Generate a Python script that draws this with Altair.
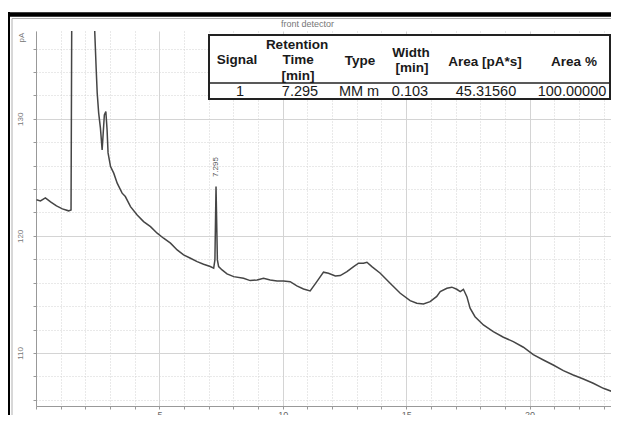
import altair as alt
import pandas as pd

# ---- data ----
times = [0.02, 0.18, 0.38, 0.59, 0.83, 1.07, 1.32, 1.42, 1.46, 2.37, 2.38, 2.44, 2.48,
         2.54, 2.61, 2.68, 2.77, 2.83, 2.88, 2.92, 3.02, 3.15, 3.29, 3.49, 3.62, 3.83,
         4.10, 4.36, 4.64, 4.91, 5.17, 5.45, 5.72, 5.98, 6.26, 6.53, 6.79, 7.06, 7.20,
         7.25, 7.295, 7.35, 7.40, 7.54, 7.74, 8.01, 8.41, 8.68, 8.96, 9.22, 9.49, 9.77,
         10.03, 10.30, 10.57, 10.84, 11.11, 11.38, 11.65, 11.85, 12.13, 12.33, 12.60,
         12.87, 13.07, 13.27, 13.41, 13.61, 13.95, 14.35, 14.76, 15.16, 15.43, 15.70,
         15.97, 16.24, 16.38, 16.65, 16.85, 17.05, 17.19, 17.32, 17.46, 17.59, 17.79,
         18.13, 18.53, 18.94, 19.34, 19.75, 20.15, 20.56, 20.96, 21.37, 21.77, 22.18,
         22.58, 22.99, 23.53]
signal = [123.08, 122.99, 123.25, 122.91, 122.56, 122.31, 122.14, 122.22, 145.0, 145.0,
          137.46, 134.19, 132.20, 130.49, 129.23, 127.35, 130.34, 130.62, 129.06, 127.09,
          125.92, 125.36, 124.50, 123.65, 123.36, 122.50, 121.79, 121.22, 120.79, 120.23,
          119.80, 119.38, 118.80, 118.38, 118.09, 117.80, 117.58, 117.38, 117.24, 117.95,
          124.21, 117.95, 117.38, 117.09, 116.75, 116.52, 116.38, 116.18, 116.24, 116.38,
          116.24, 116.15, 116.15, 116.09, 115.73, 115.47, 115.30, 116.09, 116.90, 116.81,
          116.58, 116.61, 116.95, 117.38, 117.67, 117.67, 117.75, 117.38, 116.81, 115.96,
          115.10, 114.47, 114.25, 114.19, 114.38, 114.83, 115.24, 115.53, 115.62, 115.44,
          115.24, 115.44, 114.81, 113.82, 113.10, 112.39, 111.82, 111.34, 110.97, 110.49,
          109.85, 109.40, 108.97, 108.49, 108.12, 107.78, 107.41, 106.98, 106.56]

peak_time = [7.295]
peak_height = [124.21]
peak_label = ["7.295"]

detector_title = "front detector"
header_lines = ["Retention", "Signal", "Time", "[min]", "Type", "Width", "[min]",
                "Area [pA*s]", "Area %"]
row_values = ["1", "7.295", "MM m", "0.103", "45.31560", "100.00000"]

x_tick_values = list(range(0, 24))
y_tick_values = list(range(106, 138, 2))
y_title = "pA"

FONT = "Liberation Sans"
W, H = 575, 375

trace = pd.DataFrame({"t": times, "pA": signal})
peaks = pd.DataFrame({"t": peak_time, "pA": peak_height, "label": peak_label})
one = pd.DataFrame({"k": [0]})

x_grid_dash = {"condition": {"test": "datum.value % 5 === 0", "value": []}, "value": [1, 2]}
y_grid_dash = {"condition": {"test": "datum.value % 10 === 0", "value": []}, "value": [1, 2]}
x_grid_color = {"condition": {"test": "datum.value % 5 === 0", "value": "#d4d4d4"}, "value": "#d2d2d2"}
y_grid_color = {"condition": {"test": "datum.value % 10 === 0", "value": "#d4d4d4"}, "value": "#d2d2d2"}

x_enc = alt.X(
    "t:Q",
    scale=alt.Scale(domain=[0, 23.3], nice=False, zero=False),
    axis=alt.Axis(values=x_tick_values, tickCount=100, format="d", title=None,
                  labelExpr="datum.value % 5 === 0 && datum.value > 0 ? datum.label : ''",
                  grid=True, gridDash=x_grid_dash, gridColor=x_grid_color,
                  tickSize=3, tickColor="#999", domainColor="#999",
                  labelFont=FONT, labelFontSize=9, labelColor="#666",
                  labelPadding=1, labelOverlap=False, labelFlush=False),
)
y_enc = alt.Y(
    "pA:Q",
    scale=alt.Scale(domain=[105.47, 137.5], nice=False, zero=False),
    axis=alt.Axis(values=y_tick_values, tickCount=100, format="d", title=y_title,
                  labelExpr="datum.value % 10 === 0 ? datum.label : ''",
                  grid=True, gridDash=y_grid_dash, gridColor=y_grid_color,
                  tickSize=3, tickColor="#999", domainColor="#999",
                  labelFont=FONT, labelFontSize=8, labelColor="#777",
                  labelAngle=270, labelAlign="center", labelBaseline="bottom",
                  labelPadding=9, labelOverlap=False, labelFlush=False,
                  titleFont=FONT, titleFontSize=8, titleColor="#777",
                  titleFontWeight="normal", titleAngle=270, titleAlign="center",
                  titleBaseline="middle", titleX=-15, titleY=6),
)

line = alt.Chart(trace).mark_line(color="#454545", strokeWidth=1.5, clip=True).encode(
    x=x_enc, y=y_enc
)

peak_text = alt.Chart(peaks).mark_text(
    angle=270, align="left", baseline="middle", dx=9.5, font=FONT, fontSize=8, color="#555"
).encode(x="t:Q", y="pA:Q", text="label:N")

layers = []

# frame of the scanned print-out
layers.append(alt.Chart(one).mark_rule(color="black", strokeWidth=4.5).encode(
    x=alt.value(-28), x2=alt.value(W), y=alt.value(-16.5)))
layers.append(alt.Chart(one).mark_rule(color="black", strokeWidth=2).encode(
    x=alt.value(-27), y=alt.value(-19), y2=alt.value(H + 9)))
layers.append(alt.Chart(one).mark_rule(color="#b0b0b0", strokeWidth=1).encode(
    x=alt.value(-24), x2=alt.value(W), y=alt.value(-12.5)))
layers.append(alt.Chart(one).mark_rule(color="#b0b0b0", strokeWidth=1).encode(
    x=alt.value(-24), y=alt.value(-12.5), y2=alt.value(H + 9)))

layers.append(line)
layers.append(peak_text)

# detector title
layers.append(alt.Chart(one).mark_text(font=FONT, fontSize=9, color="#777", align="center",
                                       baseline="middle").encode(
    x=alt.value(271.5), y=alt.value(-7), text=alt.value(detector_title)))

# integration table
layers.append(alt.Chart(one).mark_rect(fill="white", stroke="#222", strokeWidth=2).encode(
    x=alt.value(173), x2=alt.value(574), y=alt.value(4), y2=alt.value(68)))
layers.append(alt.Chart(one).mark_rule(color="#222", strokeWidth=1.5).encode(
    x=alt.value(173), x2=alt.value(574), y=alt.value(52)))

header_pos = [(261, 13.7), (201, 28.7), (262, 28.7), (262, 44.5), (324, 29.5),
              (375, 22), (376, 37), (449, 31), (538, 30.7)]
for txt, (px, py) in zip(header_lines, header_pos):
    layers.append(alt.Chart(one).mark_text(font=FONT, fontSize=13.5, fontWeight="bold",
                                           color="#1a1a1a", align="center",
                                           baseline="middle").encode(
        x=alt.value(px), y=alt.value(py), text=alt.value(txt)))

row_pos = [204, 264, 323, 374, 450, 536]
for txt, px in zip(row_values, row_pos):
    layers.append(alt.Chart(one).mark_text(font=FONT, fontSize=14.5, color="#1a1a1a",
                                           align="center", baseline="middle").encode(
        x=alt.value(px), y=alt.value(60.7), text=alt.value(txt)))

chart = alt.layer(*layers).properties(
    width=W, height=H,
    padding={"left": 28, "top": 23, "right": 0, "bottom": 9},
    autosize=alt.AutoSizeParams(type="none"),
    background="white",
).configure_view(stroke=None)

chart.save("out.html", embed_options={"renderer": "svg", "actions": False})
